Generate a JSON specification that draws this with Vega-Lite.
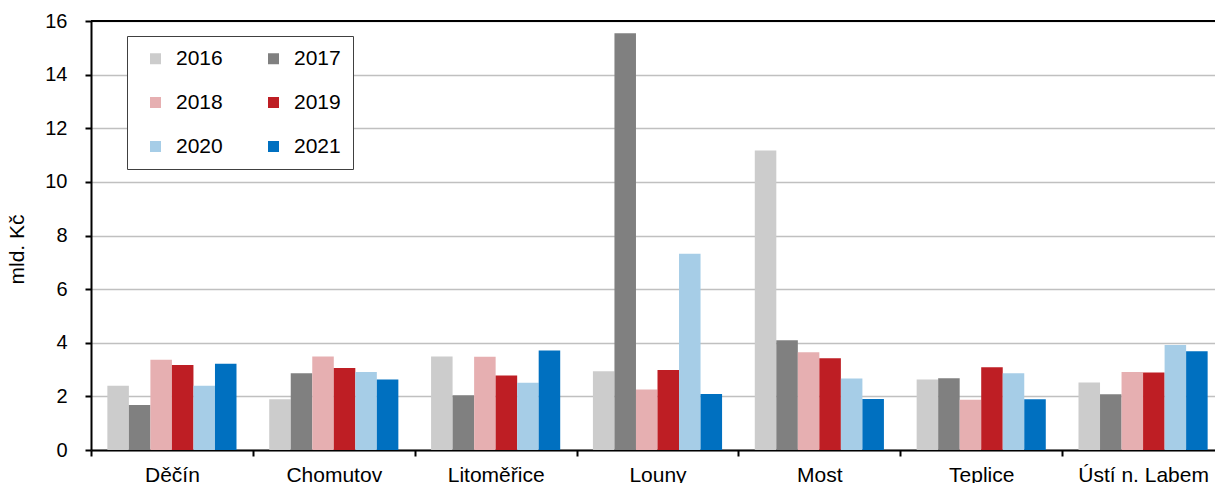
{
  "$schema": "https://vega.github.io/schema/vega-lite/v6.json",
  "autosize": {"type": "none"},
  "padding": {"left": 91, "top": 21, "right": 0, "bottom": 33},
  "width": 1124,
  "height": 429,
  "background": "white",
  "config": {
    "view": {"stroke": null},
    "font": "Liberation Sans"
  },
  "data": {
    "values": [
      {"okres": "Děčín", "rok": "2016", "hodnota": 2.40},
      {"okres": "Děčín", "rok": "2017", "hodnota": 1.68},
      {"okres": "Děčín", "rok": "2018", "hodnota": 3.37},
      {"okres": "Děčín", "rok": "2019", "hodnota": 3.17},
      {"okres": "Děčín", "rok": "2020", "hodnota": 2.40},
      {"okres": "Děčín", "rok": "2021", "hodnota": 3.22},
      {"okres": "Chomutov", "rok": "2016", "hodnota": 1.89},
      {"okres": "Chomutov", "rok": "2017", "hodnota": 2.86},
      {"okres": "Chomutov", "rok": "2018", "hodnota": 3.49},
      {"okres": "Chomutov", "rok": "2019", "hodnota": 3.06},
      {"okres": "Chomutov", "rok": "2020", "hodnota": 2.91},
      {"okres": "Chomutov", "rok": "2021", "hodnota": 2.63},
      {"okres": "Litoměřice", "rok": "2016", "hodnota": 3.49},
      {"okres": "Litoměřice", "rok": "2017", "hodnota": 2.04},
      {"okres": "Litoměřice", "rok": "2018", "hodnota": 3.48},
      {"okres": "Litoměřice", "rok": "2019", "hodnota": 2.78},
      {"okres": "Litoměřice", "rok": "2020", "hodnota": 2.51},
      {"okres": "Litoměřice", "rok": "2021", "hodnota": 3.71},
      {"okres": "Louny", "rok": "2016", "hodnota": 2.94},
      {"okres": "Louny", "rok": "2017", "hodnota": 15.54},
      {"okres": "Louny", "rok": "2018", "hodnota": 2.26},
      {"okres": "Louny", "rok": "2019", "hodnota": 2.98},
      {"okres": "Louny", "rok": "2020", "hodnota": 7.32},
      {"okres": "Louny", "rok": "2021", "hodnota": 2.09},
      {"okres": "Most", "rok": "2016", "hodnota": 11.17},
      {"okres": "Most", "rok": "2017", "hodnota": 4.09},
      {"okres": "Most", "rok": "2018", "hodnota": 3.65},
      {"okres": "Most", "rok": "2019", "hodnota": 3.42},
      {"okres": "Most", "rok": "2020", "hodnota": 2.67},
      {"okres": "Most", "rok": "2021", "hodnota": 1.90},
      {"okres": "Teplice", "rok": "2016", "hodnota": 2.63},
      {"okres": "Teplice", "rok": "2017", "hodnota": 2.68},
      {"okres": "Teplice", "rok": "2018", "hodnota": 1.87},
      {"okres": "Teplice", "rok": "2019", "hodnota": 3.09},
      {"okres": "Teplice", "rok": "2020", "hodnota": 2.86},
      {"okres": "Teplice", "rok": "2021", "hodnota": 1.89},
      {"okres": "Ústí n. Labem", "rok": "2016", "hodnota": 2.52},
      {"okres": "Ústí n. Labem", "rok": "2017", "hodnota": 2.08},
      {"okres": "Ústí n. Labem", "rok": "2018", "hodnota": 2.91},
      {"okres": "Ústí n. Labem", "rok": "2019", "hodnota": 2.89},
      {"okres": "Ústí n. Labem", "rok": "2020", "hodnota": 3.92},
      {"okres": "Ústí n. Labem", "rok": "2021", "hodnota": 3.68}
    ]
  },
  "layer": [
    {
      "mark": {"type": "bar"},
      "encoding": {
        "x": {
          "field": "okres",
          "type": "nominal",
          "sort": ["Děčín", "Chomutov", "Litoměřice", "Louny", "Most", "Teplice", "Ústí n. Labem"],
          "scale": {"range": [0, 1133], "paddingInner": 0, "paddingOuter": 0},
          "axis": {
            "title": null,
            "labelAngle": 0,
            "labelFontSize": 21,
            "labelColor": "black",
            "labelPadding": 8,
            "tickBand": "extent",
            "tickSize": 6,
            "tickWidth": 2,
            "tickColor": "black",
            "domainColor": "black",
            "domainWidth": 2,
            "grid": false
          }
        },
        "xOffset": {
          "field": "rok",
          "type": "nominal",
          "scale": {"paddingInner": 0, "paddingOuter": 0.76}
        },
        "y": {
          "field": "hodnota",
          "type": "quantitative",
          "scale": {"domain": [0, 16], "nice": false},
          "axis": {
            "title": "mld. Kč",
            "titleFontSize": 21,
            "titleFontWeight": "normal",
            "titleColor": "black",
            "titlePadding": 17,
            "titleY": 228,
            "values": [0, 2, 4, 6, 8, 10, 12, 14, 16],
            "labelFontSize": 20,
            "labelColor": "black",
            "labelPadding": 18,
            "tickSize": 6,
            "tickWidth": 2,
            "tickColor": "black",
            "domainColor": "black",
            "domainWidth": 2,
            "gridColor": "#c0c0c0",
            "gridWidth": 1.5
          }
        },
        "color": {
          "field": "rok",
          "type": "nominal",
          "scale": {
            "domain": ["2016", "2017", "2018", "2019", "2020", "2021"],
            "range": ["#cccccc", "#808080", "#e6afb1", "#be1e24", "#a6cde7", "#0070c0"]
          },
          "legend": {
            "title": null,
            "orient": "none",
            "legendX": 36,
            "legendY": 15,
            "columns": 2,
            "direction": "horizontal",
            "symbolType": "square",
            "symbolSize": 121,
            "symbolStrokeWidth": 0,
            "symbolOffset": 6,
            "labelFontSize": 21,
            "labelColor": "black",
            "labelOffset": 10,
            "columnPadding": 34,
            "rowPadding": 22,
            "padding": 12,
            "strokeColor": "#404040",
            "fillColor": "white"
          }
        }
      }
    },
    {
      "mark": {"type": "rule", "color": "black", "strokeWidth": 2},
      "encoding": {"y": {"datum": 16}}
    }
  ]
}
